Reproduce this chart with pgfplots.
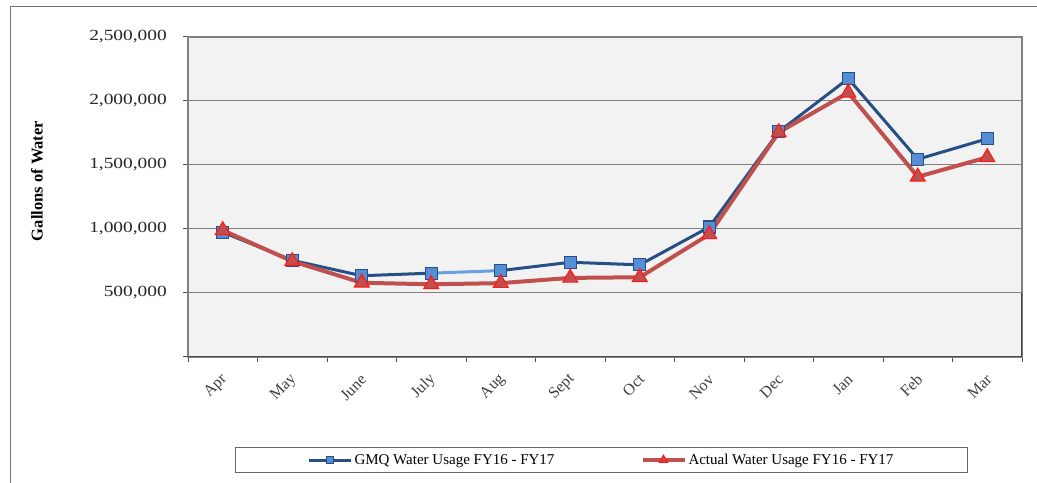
\documentclass[border=0pt]{standalone}
\usepackage{pgfplots}
\pgfplotsset{compat=1.18}
\usepackage{fontspec}
\setmainfont{Liberation Serif}

\definecolor{gmqline}{HTML}{264F86}
\definecolor{gmqfill}{HTML}{558ED5}
\definecolor{gmqlight}{HTML}{6A9FE0}
\definecolor{actline}{HTML}{C0504D}
\definecolor{actedge}{HTML}{FF1A1A}
\definecolor{plotbg}{HTML}{F2F2F2}
\definecolor{gridc}{HTML}{7F7F7F}

\begin{document}
\begin{tikzpicture}
\path[use as bounding box] (0,0) rectangle (1037bp,483bp);
\clip (0,0) rectangle (1037bp,483bp);
% outer chart frame
\draw[black!55, line width=1.2bp] (10.7bp,-5bp) -- (10.7bp,476.3bp) -- (1045bp,476.3bp);
\begin{axis}[
  at={(188bp,126bp)}, anchor=south west,
  scale only axis, width=834bp, height=320bp,
  xmin=-0.5, xmax=11.5, ymin=0, ymax=2500000,
  axis background/.style={fill=plotbg},
  axis line style={black!50, line width=1.2bp},
  tick align=outside, tick pos=left,
  major tick length=5bp, minor tick length=5bp,
  xtick={0,...,11},
  xticklabels={Apr,May,June,July,Aug,Sept,Oct,Nov,Dec,Jan,Feb,Mar},
  minor xtick={-0.5,0.5,...,11.5},
  major x tick style={draw=none},
  minor x tick style={draw=black!70, line width=1bp},
  xticklabel style={yshift=-15bp, xshift=2bp, rotate=45, anchor=east, inner sep=0pt,
    font=\fontsize{16bp}{18bp}\selectfont, text=black!75},
  ytick={0,500000,1000000,1500000,2000000,2500000},
  yticklabels={{},{500,000},{1,000,000},{1,500,000},{2,000,000},{2,500,000}},
  scaled y ticks=false,
  ytick style={draw=black!70, line width=1bp},
  yticklabel style={anchor=east, inner sep=0pt, xshift=-16bp, xscale=1.25,
    font=\fontsize{15.5bp}{18bp}\selectfont, text=black!85},
  ymajorgrids,
  major grid style={gridc, line width=1bp},
  ylabel={Gallons of Water},
  ylabel style={at={(axis description cs:-0.181,0.55)}, anchor=center,
    font=\bfseries\fontsize{16.5bp}{18bp}\selectfont},
  legend columns=2,
  legend style={at={(0.4958,-0.3219)}, anchor=center,
    draw=black!60, fill=white, line width=1bp,
    inner xsep=72bp, inner ysep=5bp,
    font=\fontsize{15bp}{18bp}\selectfont,
    /tikz/every even column/.append style={column sep=84bp}},
  legend image code/.code={
    \draw[mark repeat=2, mark phase=2, #1, every mark/.append style={scale=0.55}]
      plot coordinates {(0bp,0bp) (21bp,0bp) (42bp,0bp)};},
]
% lighter segment of the GMQ line between July and August
\addplot[gmqlight, line width=3bp, forget plot] coordinates {(3,655000) (4,675000)};

\addplot[gmqline, line width=3bp, unbounded coords=jump,
  mark=square*, mark size=6bp,
  mark options={fill=gmqfill, draw=gmqline, line width=1.3bp}]
  coordinates {
    (0,975000) (1,755000) (2,635000) (3,655000) (3.5,nan)
    (4,675000) (5,740000) (6,720000) (7,1015000) (8,1760000)
    (9,2175000) (10,1545000) (11,1705000)
  };
\addlegendentry{GMQ Water Usage FY16 - FY17}

\addplot[actline, line width=4bp,
  mark=triangle*, mark size=8.5bp,
  mark options={fill=actline, draw=actedge, line width=1.2bp}]
  coordinates {
    (0,990000) (1,748000) (2,580000) (3,568000) (4,577000)
    (5,618000) (6,623000) (7,958000) (8,1755000) (9,2065000)
    (10,1408000) (11,1560000)
  };
\addlegendentry{Actual Water Usage FY16 - FY17}

% darker lower segments of the plot-area border
\draw[black!75, line width=2.5bp] (axis cs:11.5,0) -- (axis cs:11.5,500000);
\draw[black!70, line width=1.6bp] (axis cs:-0.5,0) -- (axis cs:11.5,0);
\end{axis}
\end{tikzpicture}
\end{document}
